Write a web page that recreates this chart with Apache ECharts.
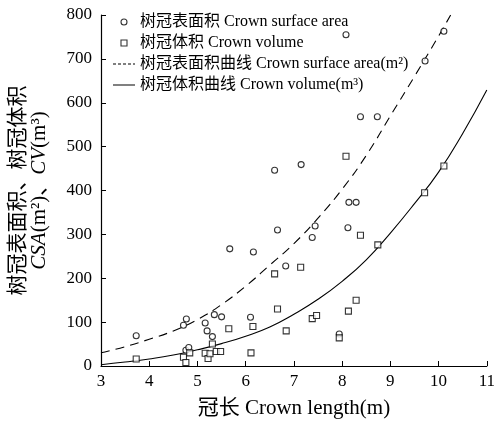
<!DOCTYPE html>
<html><head><meta charset="utf-8">
<script src="https://cdn.jsdelivr.net/npm/echarts@6/dist/echarts.min.js"></script>
<style>html,body{margin:0;padding:0;background:#fff}#c{width:498px;height:424px}</style>
</head><body><div id="c"></div>
<script>
// Crown surface area observations (x: crown length m, y: m²)
const csaX = [3.73,4.71,4.77,4.76,4.82,5.16,5.20,5.31,5.35,5.50,5.67,6.10,6.16,6.60,6.66,6.83,7.15,7.38,7.44,7.94,8.08,8.12,8.14,8.29,8.38,8.73,9.72,10.11];
const csaY = [69,93,107,36,42,98,80,67,117,112,267,111,260,446,310,228,459,293,319,73,755,315,373,373,568,568,695,763];
// Crown volume observations (y: m³)
const cvX = [3.73,4.71,4.76,4.84,5.16,5.22,5.26,5.31,5.39,5.48,5.65,6.11,6.15,6.60,6.66,6.84,7.14,7.38,7.47,7.94,8.08,8.13,8.29,8.38,8.74,9.71,10.11];
const cvY = [16,20,8,30,29,17,28,50,33,33,85,30,90,210,130,80,225,108,115,64,478,125,150,298,276,395,456];
// Fitted curves
const csaCurveX = [3,3.5,4,4.5,5,5.5,6,6.5,7,7.5,8,8.5,9,9.5,10,10.25];
const csaCurveY = [30,44,61,80,106,140,182,230,279,337,403,480,570,660,752,800];
const cvCurveX = [3,3.5,4,4.5,5,5.5,6,6.5,7,7.5,8,8.5,9,9.5,10,10.5,11];
const cvCurveY = [3,9,16,25,37,51,68,89,118,152,193,242,303,370,442,530,629];
const xTicks = [3,4,5,6,7,8,9,10,11];
const yTicks = [0,100,200,300,400,500,600,700,800];

const names = ['树冠表面积 Crown surface area','树冠体积 Crown volume','树冠表面积曲线 Crown surface area(m²)','树冠体积曲线 Crown volume(m³)'];
const FONT = '"Liberation Serif","Noto Sans CJK SC",serif';
const zip = (a,b)=>a.map((v,i)=>[v,b[i]]);

const chart = echarts.init(document.getElementById('c'), null, {renderer:'canvas'});
chart.setOption({
  animation:false,
  backgroundColor:'#fff',
  grid:{left:101,right:8,top:15,bottom:58,containLabel:false},
  legend:{
    orient:'vertical', left:108, top:9, itemWidth:22, itemHeight:6, itemGap:5,
    symbolKeepAspect:true,
    textStyle:{fontFamily:FONT,fontSize:16,color:'#000',lineHeight:16},
    data:[
      {name:names[0],icon:'circle',itemStyle:{color:'#fff',borderColor:'#000',borderWidth:1.1}},
      {name:names[1],icon:'path://M0,0H1V1H0Z',itemStyle:{color:'#fff',borderColor:'#000',borderWidth:1.1}},
      {name:names[2],icon:'path://M0,0H3V1H0Z M5,0H8V1H5Z M10,0H13V1H10Z M15,0H18V1H15Z M20,0H22V1H20Z',itemStyle:{color:'#000',borderWidth:0}},
      {name:names[3],icon:'path://M0,0H22V1H0Z',itemStyle:{color:'#000',borderWidth:0}}
    ]
  },
  xAxis:{
    type:'value',min:xTicks[0],max:xTicks[xTicks.length-1],interval:1,
    name:'冠长 Crown length(m)',nameLocation:'middle',nameGap:32,
    nameTextStyle:{fontFamily:FONT,fontSize:21,color:'#000'},
    axisLine:{lineStyle:{color:'#000',width:1.2}},
    axisTick:{inside:true,length:5,lineStyle:{color:'#000'}},
    axisLabel:{fontFamily:FONT,fontSize:17,color:'#000',margin:7},
    splitLine:{show:false}
  },
  yAxis:{
    type:'value',min:yTicks[0],max:yTicks[yTicks.length-1],interval:100,
    name:'树冠表面积、树冠体积\n{i|CSA}(m²)、{i|CV}(m³)',nameLocation:'middle',nameRotate:90,nameGap:51,
    nameTextStyle:{fontFamily:FONT,fontSize:21,color:'#000',lineHeight:21,align:'center',
      rich:{i:{fontFamily:FONT,fontSize:21,fontStyle:'italic',color:'#000'}}},
    axisLine:{lineStyle:{color:'#000',width:1.2}},
    axisTick:{inside:true,length:5,lineStyle:{color:'#000'}},
    axisLabel:{fontFamily:FONT,fontSize:17,color:'#000',margin:9},
    splitLine:{show:false}
  },
  series:[
    {name:names[0],type:'scatter',data:zip(csaX,csaY),symbol:'circle',symbolSize:6,
     itemStyle:{color:'#fff',borderColor:'#000',borderWidth:1.1},z:5},
    {name:names[1],type:'scatter',data:zip(cvX,cvY),symbol:'rect',symbolSize:6,
     itemStyle:{color:'#fff',borderColor:'#000',borderWidth:1.1},z:5},
    {name:names[2],type:'line',data:zip(csaCurveX,csaCurveY),smooth:0.5,symbol:'none',
     lineStyle:{color:'#000',width:1.1,type:[9,6]},itemStyle:{color:'#000'}},
    {name:names[3],type:'line',data:zip(cvCurveX,cvCurveY),smooth:0.5,symbol:'none',
     lineStyle:{color:'#000',width:1.1,type:'solid'},itemStyle:{color:'#000'}}
  ]
});
</script></body></html>
